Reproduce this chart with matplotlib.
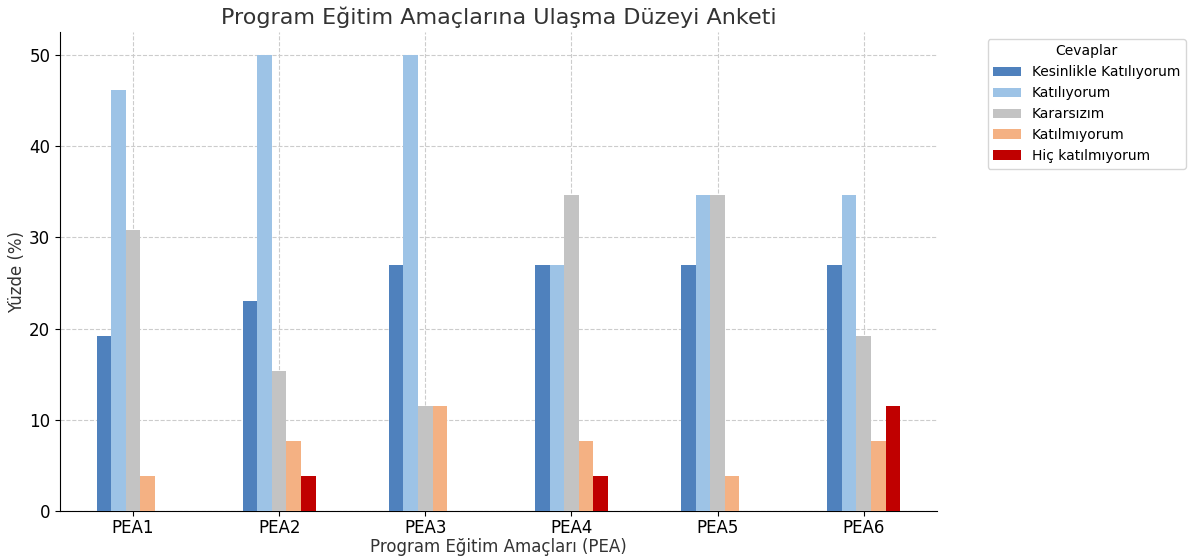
import matplotlib.pyplot as plt
import numpy as np

categories = ["PEA1", "PEA2", "PEA3", "PEA4", "PEA5", "PEA6"]
responses = ["Kesinlikle Katılıyorum", "Katılıyorum", "Kararsızım",
             "Katılmıyorum", "Hiç katılmıyorum"]

# percentages per response, one value per PEA
kesinlikle = [19.23, 23.08, 26.92, 26.92, 26.92, 26.92]
katiliyorum = [46.15, 50.00, 50.00, 26.92, 34.62, 34.62]
kararsizim = [30.77, 15.38, 11.54, 34.62, 34.62, 19.23]
katilmiyorum = [3.85, 7.69, 11.54, 7.69, 3.85, 7.69]
hic = [0.0, 3.85, 0.0, 3.85, 0.0, 11.54]

series = [kesinlikle, katiliyorum, kararsizim, katilmiyorum, hic]
colors = ["#4f81bd", "#9dc3e6", "#c3c3c3", "#f4b183", "#c00000"]

fig = plt.figure(figsize=(11.88, 5.6), dpi=100)
ax = fig.add_axes([0.0505, 0.087, 0.738, 0.856])

x = np.arange(len(categories))
w = 0.1
for i, (vals, col, lab) in enumerate(zip(series, colors, responses)):
    ax.bar(x + (i - 2) * w, vals, w, color=col, label=lab, zorder=3)

ax.set_xlim(-0.5, len(categories) - 0.5)
ax.set_ylim(0, 52.5)
ax.set_xticks(x)
ax.set_xticklabels(categories, fontsize=12)
ax.set_yticks([0, 10, 20, 30, 40, 50])
ax.tick_params(axis="y", labelsize=12)
ax.tick_params(axis="x", pad=2)
ax.grid(True, linestyle="--", color="#cccccc", linewidth=0.8, zorder=0)
ax.spines["top"].set_visible(False)
ax.spines["right"].set_visible(False)

ax.set_title("Program Eğitim Amaçlarına Ulaşma Düzeyi Anketi", fontsize=16, color="#333333")
ax.set_xlabel("Program Eğitim Amaçları (PEA)", fontsize=12, color="#333333", labelpad=1)
ax.set_ylabel("Yüzde (%)", fontsize=12, color="#333333", labelpad=2)

ax.legend(title="Cevaplar", bbox_to_anchor=(1.05, 1), loc="upper left", fontsize=10,
          title_fontsize=10)

fig.savefig("out.png")
